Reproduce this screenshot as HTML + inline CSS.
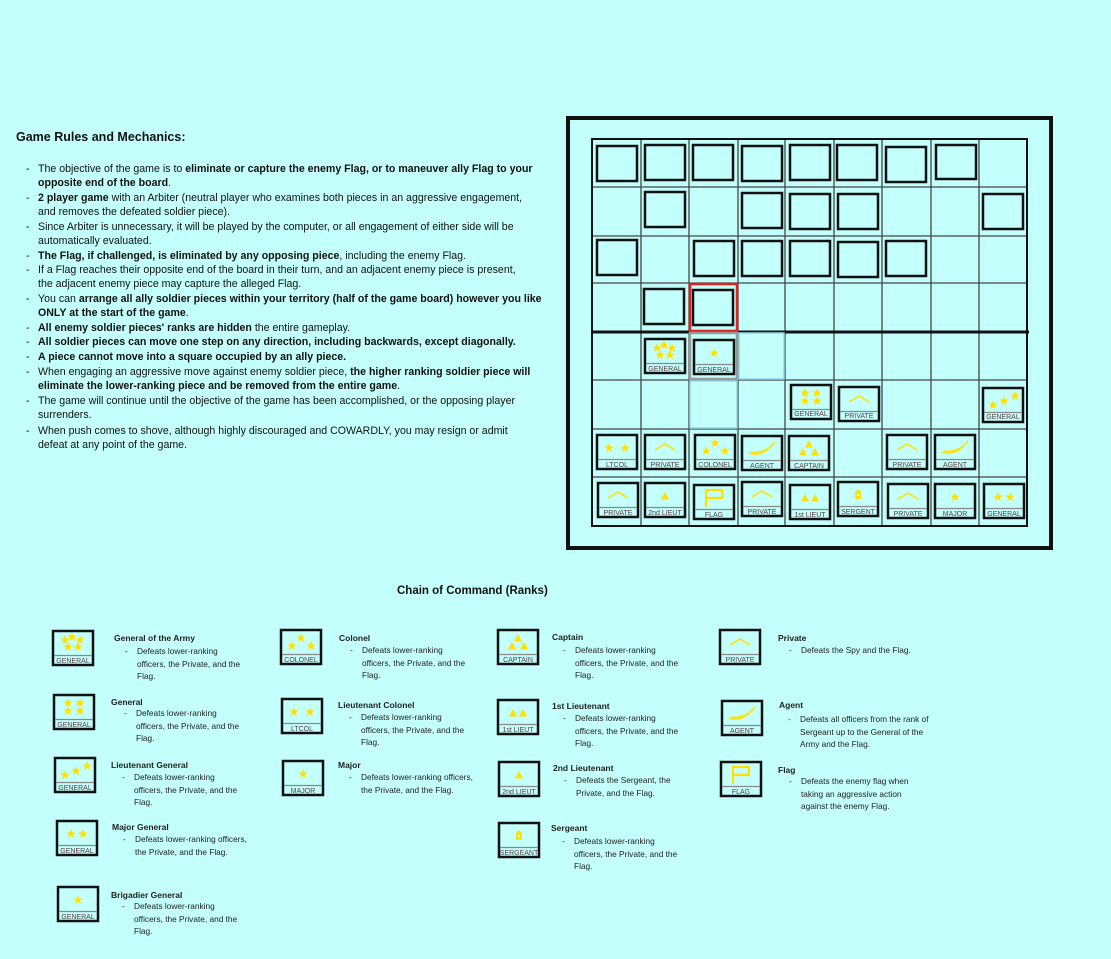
<!DOCTYPE html>
<html><head><meta charset="utf-8"><style>
body{margin:0;width:1111px;height:959px;background:#c3fffb;position:relative;overflow:hidden;font-family:"Liberation Sans",sans-serif;color:#111}
.t{position:absolute;white-space:nowrap}
.r{font-size:10.6px;line-height:14.5px;left:38px}
.d{position:absolute;left:-12px}
.lg{font-size:8.3px;line-height:12.5px;color:#222}
.lg b{font-size:8.5px}
svg{position:absolute;left:0;top:0}
</style></head><body>
<svg width="1111" height="959" viewBox="0 0 1111 959">
<defs>
<polygon id="s" points="0,-4.6 1.4,-1.5 4.6,-1.5 2,0.6 3,4.1 0,2 -3,4.1 -2,0.6 -4.6,-1.5 -1.4,-1.5" fill="#ffe000"/>
<polygon id="tr" points="0,-4 4,3.5 -4,3.5" fill="#ffe000"/>
<g id="box"><rect x="0" y="0" width="40" height="34" fill="none" stroke="#111" stroke-width="2.5"/><line x1="1" y1="24.5" x2="39" y2="24.5" stroke="#888" stroke-width="1.3"/></g>
<g id="gota"><use href="#s" x="12" y="9"/><use href="#s" x="19" y="6"/><use href="#s" x="27" y="9"/><use href="#s" x="15" y="16"/><use href="#s" x="25" y="16"/></g>
<g id="gen"><use href="#s" x="14" y="8"/><use href="#s" x="26" y="8"/><use href="#s" x="14" y="16"/><use href="#s" x="26" y="16"/></g>
<g id="ltg"><use href="#s" x="10" y="17"/><use href="#s" x="21" y="13"/><use href="#s" x="32" y="8"/></g>
<g id="mjg"><use href="#s" x="14" y="13"/><use href="#s" x="26" y="13"/></g>
<g id="one"><use href="#s" x="20" y="13"/></g>
<g id="col"><use href="#s" x="11" y="16"/><use href="#s" x="20" y="8"/><use href="#s" x="30" y="16"/></g>
<g id="ltc"><use href="#s" x="12" y="13"/><use href="#s" x="28" y="13"/></g>
<g id="cap"><use href="#tr" x="20" y="8"/><use href="#tr" x="14" y="16"/><use href="#tr" x="26" y="16"/></g>
<g id="l1"><use href="#tr" x="15" y="13"/><use href="#tr" x="25" y="13"/></g>
<g id="l2"><use href="#tr" x="20" y="13"/></g>
<g id="sgt"><polygon points="17,10 20,7 23,10 23,17 17,17" fill="#ffe000"/><rect x="19" y="12" width="2" height="2" fill="#c3fffb"/></g>
<g id="pvt"><polyline points="10,15 20,9 30,15" fill="none" stroke="#ffe000" stroke-width="1.6"/></g>
<g id="agt"><path d="M7,17 Q20,22 33,6 Q24,18 9,16" fill="none" stroke="#ffe000" stroke-width="1.5"/></g>
<g id="flg"><polyline points="12,22 12,5 28,5 28,13 12,13" fill="none" stroke="#ffe000" stroke-width="2.2"/></g>
</defs>
<g font-family="Liberation Sans,sans-serif" font-size="7" fill="#5a3c46" text-anchor="middle">
<rect x="568" y="118" width="483" height="430" fill="none" stroke="#111" stroke-width="4"/>
<g stroke="#444" stroke-width="1.3">
<line x1="641" y1="139" x2="641" y2="526"/><line x1="689" y1="139" x2="689" y2="526"/><line x1="738" y1="139" x2="738" y2="526"/><line x1="785" y1="139" x2="785" y2="526"/><line x1="834" y1="139" x2="834" y2="526"/><line x1="882" y1="139" x2="882" y2="526"/><line x1="931" y1="139" x2="931" y2="526"/><line x1="979" y1="139" x2="979" y2="526"/>
<line x1="592" y1="187" x2="1027" y2="187"/><line x1="592" y1="236" x2="1027" y2="236"/><line x1="592" y1="283" x2="1027" y2="283"/><line x1="592" y1="380" x2="1027" y2="380"/><line x1="592" y1="429" x2="1027" y2="429"/><line x1="592" y1="477" x2="1027" y2="477"/>
</g>
<rect x="592" y="139" width="435" height="387" fill="none" stroke="#111" stroke-width="2"/>
<line x1="592" y1="332" x2="1029" y2="332" stroke="#111" stroke-width="3"/>
<rect x="690" y="284" width="47" height="47" fill="none" stroke="#e02020" stroke-width="2.5"/>
<rect x="690" y="333" width="47" height="46" fill="none" stroke="#999" stroke-width="2.5"/>
<rect x="739" y="333" width="45" height="46" fill="none" stroke="#90d8f0" stroke-width="1.5"/>
<rect x="690" y="381" width="47" height="47" fill="none" stroke="#90d8f0" stroke-width="1.5"/>
<g fill="none" stroke="#111" stroke-width="2.5">
<rect x="597" y="146" width="40" height="35"/><rect x="645" y="145" width="40" height="35"/><rect x="693" y="145" width="40" height="35"/><rect x="742" y="146" width="40" height="35"/><rect x="790" y="145" width="40" height="35"/><rect x="837" y="145" width="40" height="35"/><rect x="886" y="147" width="40" height="35"/><rect x="936" y="145" width="40" height="34"/>
<rect x="645" y="192" width="40" height="35"/><rect x="742" y="193" width="40" height="35"/><rect x="790" y="194" width="40" height="35"/><rect x="838" y="194" width="40" height="35"/><rect x="983" y="194" width="40" height="35"/>
<rect x="597" y="240" width="40" height="35"/><rect x="694" y="241" width="40" height="35"/><rect x="742" y="241" width="40" height="35"/><rect x="790" y="241" width="40" height="35"/><rect x="838" y="242" width="40" height="35"/><rect x="886" y="241" width="40" height="35"/>
<rect x="644" y="289" width="40" height="35"/><rect x="693" y="290" width="40" height="35"/>
</g>
<g transform="translate(645,339)"><use href="#box"/><use href="#gota"/><text x="20" y="32">GENERAL</text></g>
<g transform="translate(694,340)"><use href="#box"/><use href="#one"/><text x="20" y="32">GENERAL</text></g>
<g transform="translate(791,385)"><use href="#box"/><use href="#gen"/><text x="20" y="31">GENERAL</text></g>
<g transform="translate(839,387)"><use href="#box"/><use href="#pvt"/><text x="20" y="31">PRIVATE</text></g>
<g transform="translate(983,388)"><use href="#box"/><use href="#ltg"/><text x="20" y="31">GENERAL</text></g>
<g transform="translate(597,435)"><use href="#box"/><use href="#ltc"/><text x="20" y="32">LTCOL</text></g>
<g transform="translate(645,435)"><use href="#box"/><use href="#pvt"/><text x="20" y="32">PRIVATE</text></g>
<g transform="translate(695,435)"><use href="#box"/><use href="#col"/><text x="20" y="32">COLONEL</text></g>
<g transform="translate(742,436)"><use href="#box"/><use href="#agt"/><text x="20" y="32">AGENT</text></g>
<g transform="translate(789,436)"><use href="#box"/><use href="#cap"/><text x="20" y="32">CAPTAIN</text></g>
<g transform="translate(887,435)"><use href="#box"/><use href="#pvt"/><text x="20" y="32">PRIVATE</text></g>
<g transform="translate(935,435)"><use href="#box"/><use href="#agt"/><text x="20" y="32">AGENT</text></g>
<g transform="translate(598,483)"><use href="#box"/><use href="#pvt"/><text x="20" y="32">PRIVATE</text></g>
<g transform="translate(645,483)"><use href="#box"/><use href="#l2"/><text x="20" y="32">2nd LIEUT</text></g>
<g transform="translate(694,485)"><use href="#box"/><use href="#flg"/><text x="20" y="32">FLAG</text></g>
<g transform="translate(742,482)"><use href="#box"/><use href="#pvt"/><text x="20" y="32">PRIVATE</text></g>
<g transform="translate(790,485)"><use href="#box"/><use href="#l1"/><text x="20" y="32">1st LIEUT</text></g>
<g transform="translate(838,482)"><use href="#box"/><use href="#sgt"/><text x="20" y="32">SERGENT</text></g>
<g transform="translate(888,484)"><use href="#box"/><use href="#pvt"/><text x="20" y="32">PRIVATE</text></g>
<g transform="translate(935,484)"><use href="#box"/><use href="#one"/><text x="20" y="32">MAJOR</text></g>
<g transform="translate(984,484)"><use href="#box"/><use href="#mjg"/><text x="20" y="32">GENERAL</text></g>
<g transform="translate(53,631)"><use href="#box"/><use href="#gota"/><text x="20" y="32">GENERAL</text></g>
<g transform="translate(54,695)"><use href="#box"/><use href="#gen"/><text x="20" y="32">GENERAL</text></g>
<g transform="translate(55,758)"><use href="#box"/><use href="#ltg"/><text x="20" y="32">GENERAL</text></g>
<g transform="translate(57,821)"><use href="#box"/><use href="#mjg"/><text x="20" y="32">GENERAL</text></g>
<g transform="translate(58,887)"><use href="#box"/><use href="#one"/><text x="20" y="32">GENERAL</text></g>
<g transform="translate(281,630)"><use href="#box"/><use href="#col"/><text x="20" y="32">COLONEL</text></g>
<g transform="translate(282,699)"><use href="#box"/><use href="#ltc"/><text x="20" y="32">LTCOL</text></g>
<g transform="translate(283,761)"><use href="#box"/><use href="#one"/><text x="20" y="32">MAJOR</text></g>
<g transform="translate(498,630)"><use href="#box"/><use href="#cap"/><text x="20" y="32">CAPTAIN</text></g>
<g transform="translate(498,700)"><use href="#box"/><use href="#l1"/><text x="20" y="32">1st LIEUT</text></g>
<g transform="translate(499,762)"><use href="#box"/><use href="#l2"/><text x="20" y="32">2nd LIEUT</text></g>
<g transform="translate(499,823)"><use href="#box"/><use href="#sgt"/><text x="20" y="32">SERGEANT</text></g>
<g transform="translate(720,630)"><use href="#box"/><use href="#pvt"/><text x="20" y="32">PRIVATE</text></g>
<g transform="translate(722,701)"><use href="#box"/><use href="#agt"/><text x="20" y="32">AGENT</text></g>
<g transform="translate(721,762)"><use href="#box"/><use href="#flg"/><text x="20" y="32">FLAG</text></g>
</g>
</svg>

<div class="t" style="left:16px;top:130px;font-size:12.5px;font-weight:bold">Game Rules and Mechanics:</div>
<div class="t r" style="top:162px"><span class="d">-</span>The objective of the game is to <b>eliminate or capture the enemy Flag, or to maneuver ally Flag to your</b></div>
<div class="t r" style="top:176px"><b>opposite end of the board</b>.</div>
<div class="t r" style="top:191px"><span class="d">-</span><b>2 player game</b> with an Arbiter (neutral player who examines both pieces in an aggressive engagement,</div>
<div class="t r" style="top:205px">and removes the defeated soldier piece).</div>
<div class="t r" style="top:220px"><span class="d">-</span>Since Arbiter is unnecessary, it will be played by the computer, or all engagement of either side will be</div>
<div class="t r" style="top:234px">automatically evaluated.</div>
<div class="t r" style="top:249px"><span class="d">-</span><b>The Flag, if challenged, is eliminated by any opposing piece</b>, including the enemy Flag.</div>
<div class="t r" style="top:263px"><span class="d">-</span>If a Flag reaches their opposite end of the board in their turn, and an adjacent enemy piece is present,</div>
<div class="t r" style="top:277px">the adjacent enemy piece may capture the alleged Flag.</div>
<div class="t r" style="top:292px"><span class="d">-</span>You can <b>arrange all ally soldier pieces within your territory (half of the game board) however you like</b></div>
<div class="t r" style="top:306px"><b>ONLY at the start of the game</b>.</div>
<div class="t r" style="top:321px"><span class="d">-</span><b>All enemy soldier pieces' ranks are hidden</b> the entire gameplay.</div>
<div class="t r" style="top:335px"><span class="d">-</span><b>All soldier pieces can move one step on any direction, including backwards, except diagonally.</b></div>
<div class="t r" style="top:350px"><span class="d">-</span><b>A piece cannot move into a square occupied by an ally piece.</b></div>
<div class="t r" style="top:365px"><span class="d">-</span>When engaging an aggressive move against enemy soldier piece, <b>the higher ranking soldier piece will</b></div>
<div class="t r" style="top:379px"><b>eliminate the lower-ranking piece and be removed from the entire game</b>.</div>
<div class="t r" style="top:394px"><span class="d">-</span>The game will continue until the objective of the game has been accomplished, or the opposing player</div>
<div class="t r" style="top:408px">surrenders.</div>
<div class="t r" style="top:424px"><span class="d">-</span>When push comes to shove, although highly discouraged and COWARDLY, you may resign or admit</div>
<div class="t r" style="top:438px">defeat at any point of the game.</div>

<div class="t" style="left:397px;top:585px;font-size:11.5px;font-weight:bold">Chain of Command (Ranks)</div>

<div class="t lg" style="left:114px;top:632px"><b>General of the Army</b></div>
<div class="t lg" style="left:137px;top:645px"><span class="d">-</span>Defeats lower-ranking<br>officers, the Private, and the<br>Flag.</div>
<div class="t lg" style="left:111px;top:696px"><b>General</b></div>
<div class="t lg" style="left:136px;top:707px"><span class="d">-</span>Defeats lower-ranking<br>officers, the Private, and the<br>Flag.</div>
<div class="t lg" style="left:111px;top:759px"><b>Lieutenant General</b></div>
<div class="t lg" style="left:134px;top:771px"><span class="d">-</span>Defeats lower-ranking<br>officers, the Private, and the<br>Flag.</div>
<div class="t lg" style="left:112px;top:821px"><b>Major General</b></div>
<div class="t lg" style="left:135px;top:833px"><span class="d">-</span>Defeats lower-ranking officers,<br>the Private, and the Flag.</div>
<div class="t lg" style="left:111px;top:889px"><b>Brigadier General</b></div>
<div class="t lg" style="left:134px;top:900px"><span class="d">-</span>Defeats lower-ranking<br>officers, the Private, and the<br>Flag.</div>

<div class="t lg" style="left:339px;top:632px"><b>Colonel</b></div>
<div class="t lg" style="left:362px;top:644px"><span class="d">-</span>Defeats lower-ranking<br>officers, the Private, and the<br>Flag.</div>
<div class="t lg" style="left:338px;top:699px"><b>Lieutenant Colonel</b></div>
<div class="t lg" style="left:361px;top:711px"><span class="d">-</span>Defeats lower-ranking<br>officers, the Private, and the<br>Flag.</div>
<div class="t lg" style="left:338px;top:759px"><b>Major</b></div>
<div class="t lg" style="left:361px;top:771px"><span class="d">-</span>Defeats lower-ranking officers,<br>the Private, and the Flag.</div>

<div class="t lg" style="left:552px;top:631px"><b>Captain</b></div>
<div class="t lg" style="left:575px;top:644px"><span class="d">-</span>Defeats lower-ranking<br>officers, the Private, and the<br>Flag.</div>
<div class="t lg" style="left:552px;top:700px"><b>1st Lieutenant</b></div>
<div class="t lg" style="left:575px;top:712px"><span class="d">-</span>Defeats lower-ranking<br>officers, the Private, and the<br>Flag.</div>
<div class="t lg" style="left:553px;top:762px"><b>2nd Lieutenant</b></div>
<div class="t lg" style="left:576px;top:774px"><span class="d">-</span>Defeats the Sergeant, the<br>Private, and the Flag.</div>
<div class="t lg" style="left:551px;top:822px"><b>Sergeant</b></div>
<div class="t lg" style="left:574px;top:835px"><span class="d">-</span>Defeats lower-ranking<br>officers, the Private, and the<br>Flag.</div>

<div class="t lg" style="left:778px;top:632px"><b>Private</b></div>
<div class="t lg" style="left:801px;top:644px"><span class="d">-</span>Defeats the Spy and the Flag.</div>
<div class="t lg" style="left:779px;top:699px"><b>Agent</b></div>
<div class="t lg" style="left:800px;top:713px"><span class="d">-</span>Defeats all officers from the rank of<br>Sergeant up to the General of the<br>Army and the Flag.</div>
<div class="t lg" style="left:778px;top:764px"><b>Flag</b></div>
<div class="t lg" style="left:801px;top:775px"><span class="d">-</span>Defeats the enemy flag when<br>taking an aggressive action<br>against the enemy Flag.</div>
</body></html>
